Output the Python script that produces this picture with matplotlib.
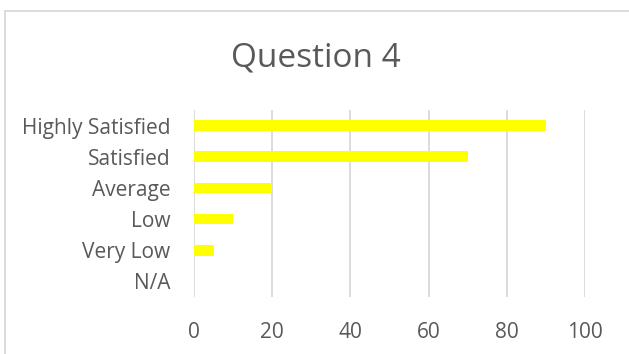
import matplotlib.pyplot as plt
from matplotlib.patches import Rectangle

categories = ['Highly Satisfied', 'Satisfied', 'Average', 'Low', 'Very Low', 'N/A']
values = [90, 70, 20, 10, 5, 0]
xticks = [0, 20, 40, 60, 80, 100]

plt.rcParams['font.family'] = ['Open Sans', 'DejaVu Sans']
txt = '#595959'

W, H = 629, 354
fig = plt.figure(figsize=(W / 100, H / 100), dpi=100)

# borde gris del gráfico (recortado a la derecha y abajo)
fig.patches.append(Rectangle((5 / W, -0.1), 1.1, 1 - 11 / H + 0.1, transform=fig.transFigure,
                             fill=False, edgecolor='#d9d9d9', linewidth=1.3))

# área de trazado en píxeles: x 194..585, y 110..297
ax = fig.add_axes([194 / W, 1 - 297 / H, (585 - 194) / W, (297 - 110) / H])
y = list(range(len(categories)))
ax.barh(y, values, height=0.34, color='#ffff00')
ax.set_ylim(len(categories) - 0.5, -0.5)
ax.set_xlim(0, 100)
ax.set_xticks(xticks)
ax.set_yticks(y)
ax.set_yticklabels(categories)
ax.xaxis.grid(True, color='#d9d9d9', linewidth=1.3)
ax.set_axisbelow(True)
for s in ax.spines.values():
    s.set_visible(False)
ax.tick_params(length=0, colors=txt, labelsize=15)
ax.tick_params(axis='x', pad=18)
ax.tick_params(axis='y', pad=17)

fig.text(316 / W, 1 - 58 / H, 'Question 4', ha='center', va='center', fontsize=24, color=txt)

fig.savefig('out.png', dpi=100)
